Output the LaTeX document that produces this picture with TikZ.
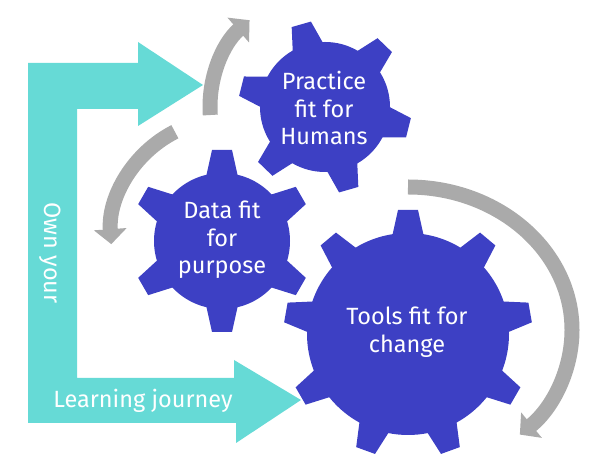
\documentclass[tikz,border=0pt]{standalone}
\usepackage{fontspec}
\setmainfont{Fira Sans}
\usetikzlibrary{arrows.meta}
\definecolor{gearblue}{RGB}{61,64,196}
\definecolor{journey}{RGB}{102,218,214}
\definecolor{cyclegray}{RGB}{170,170,170}
\tikzset{
  gearfill/.style={fill=gearblue},
  geartext/.style={text=white, align=center, font=\fontsize{23.5}{27.5}\selectfont, inner sep=0pt},
  labeltext/.style={text=white, font=\fontsize{23.5}{28}\selectfont, inner sep=0pt},
  cyclearrow/.style={draw=cyclegray, line width=15pt, -{Triangle[width=32pt,length=15pt]}},
}
% #1 centre coordinate name, #2 body radius, #3 outer radius, #4 teeth, #5 first tooth angle
\newcommand\drawgear[5]{%
  \fill[gearfill] (#1) circle[radius=#2];
  \foreach \k in {1,...,#4}{%
    \pgfmathsetmacro\ang{#5+360/#4*(\k-1)}%
    \fill[gearfill, shift={(#1)}, rotate=\ang] (#2-4,-16) -- (#3,-10) -- (#3,10) -- (#2-4,16) -- cycle;
  }%
}
\begin{document}
\begin{tikzpicture}[x=1pt,y=1pt]
\useasboundingbox (0,0) rectangle (599,470);
\coordinate (P) at (325,363);
\coordinate (D) at (222,229);
\coordinate (T) at (408,136);
\coordinate (PC) at (325,363);
\coordinate (DC) at (228,234);
\coordinate (TC) at (408,140);

% gears
\drawgear{P}{65}{86}{6}{106}
\drawgear{D}{68}{91}{6}{90}
\drawgear{T}{101}{124}{9}{90}

% learning journey L-arrow
\fill[journey] (28,407) -- (138,407) -- (138,428) -- (203,385) -- (138,344) -- (138,361)
  -- (77,361) -- (77,92) -- (234,92) -- (234,110) -- (301,70) -- (236,27) -- (236,47)
  -- (28,47) -- cycle;

% gear labels
\node[geartext] (ptxt) at (324,362) {Practice\\fit for\\Humans};
\node[geartext] (dtxt) at (222,230) {Data fit\\for\\purpose};
\node[geartext] (ttxt) at (407,138) {Tools fit for\\change};

\node[labeltext] (lj) at (143,69) {Learning journey};
\node[labeltext, rotate=-90] (oy) at (50,217) {Own your};

% cycle arrows
\draw[cyclearrow] ([shift={(184:115)}]PC) arc[start angle=184, end angle=131, radius=115];
\draw[cyclearrow] ([shift={(117:117)}]DC) arc[start angle=117, end angle=184, radius=117];
\draw[cyclearrow] ([yshift=143pt]TC) arc[start angle=90, end angle=-47, x radius=164, y radius=143];
\end{tikzpicture}
\end{document}
